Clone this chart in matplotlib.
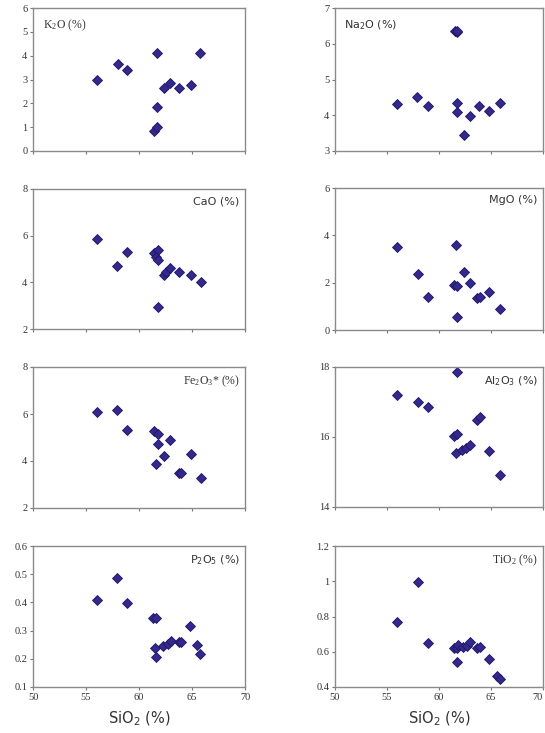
import matplotlib
matplotlib.use("Agg")
import matplotlib.pyplot as plt

# ---- data (SiO2 % vs oxide %) ----
sio2_k2o = [56.0, 58.0, 58.9, 61.7, 61.7, 61.4, 61.7, 62.4, 62.9, 63.8, 64.9, 65.8]
k2o = [3.0, 3.65, 3.4, 4.1, 1.85, 0.85, 1.0, 2.65, 2.85, 2.65, 2.75, 4.1]

sio2_na2o = [56.0, 57.9, 58.9, 61.55, 61.7, 61.75, 61.7, 61.7, 62.4, 62.95, 63.8, 64.85, 65.85]
na2o = [4.32, 4.51, 4.27, 6.36, 6.32, 6.37, 4.34, 4.09, 3.46, 3.97, 4.27, 4.13, 4.34]

sio2_cao = [56.0, 57.95, 58.9, 61.4, 61.75, 61.65, 61.8, 61.75, 62.4, 62.55, 62.9, 63.8, 64.9, 65.85]
cao = [5.87, 4.68, 5.28, 5.25, 5.4, 5.08, 4.97, 2.96, 4.32, 4.46, 4.6, 4.45, 4.32, 4.03]

sio2_mgo = [56.0, 57.95, 58.9, 61.65, 61.4, 61.75, 61.75, 62.4, 62.95, 63.65, 63.9, 64.85, 65.85]
mgo = [3.49, 2.37, 1.38, 3.6, 1.91, 1.86, 0.56, 2.46, 2.0, 1.37, 1.38, 1.61, 0.88]

sio2_fe2o3 = [56.0, 57.95, 58.9, 61.4, 61.8, 61.75, 61.65, 62.4, 62.9, 63.8, 63.95, 64.9, 65.85]
fe2o3 = [6.09, 6.19, 5.31, 5.27, 5.17, 4.71, 3.89, 4.21, 4.88, 3.51, 3.47, 4.28, 3.27]

sio2_al2o3 = [56.0, 57.95, 58.9, 61.75, 61.4, 61.75, 61.65, 62.2, 62.6, 62.95, 63.7, 63.9, 64.85, 65.85]
al2o3 = [17.19, 16.99, 16.85, 17.85, 16.02, 16.09, 15.54, 15.62, 15.69, 15.78, 16.5, 16.57, 15.59, 14.92]

sio2_p2o5 = [56.0, 57.9, 58.85, 61.35, 61.65, 61.55, 61.6, 62.3, 62.7, 63.0, 63.75, 63.95, 64.8, 65.5, 65.75]
p2o5 = [0.408, 0.487, 0.399, 0.346, 0.343, 0.24, 0.207, 0.245, 0.254, 0.262, 0.26, 0.26, 0.316, 0.25, 0.218]

sio2_tio2 = [56.0, 57.95, 58.9, 61.4, 61.7, 61.8, 61.75, 62.3, 62.7, 63.0, 63.7, 63.9, 64.85, 65.6, 65.85]
tio2 = [0.766, 0.998, 0.649, 0.624, 0.62, 0.64, 0.54, 0.626, 0.634, 0.658, 0.62, 0.626, 0.558, 0.464, 0.445]

titles = [r"K$_2$O (%)", r"Na$_2$O (%)", "CaO (%)", "MgO (%)",
          r"Fe$_2$O$_3$* (%)", r"Al$_2$O$_3$ (%)", r"P$_2$O$_5$ (%)", r"TiO$_2$ (%)"]
y_ticks = [[0, 1, 2, 3, 4, 5, 6], [3, 4, 5, 6, 7], [2, 4, 6, 8], [0, 2, 4, 6],
           [2, 4, 6, 8], [14, 16, 18], [0.1, 0.2, 0.3, 0.4, 0.5, 0.6],
           [0.4, 0.6, 0.8, 1.0, 1.2]]
y_tick_labels = [["0", "1", "2", "3", "4", "5", "6"], ["3", "4", "5", "6", "7"],
                 ["2", "4", "6", "8"], ["0", "2", "4", "6"], ["2", "4", "6", "8"],
                 ["14", "16", "18"], ["0.1", "0.2", "0.3", "0.4", "0.5", "0.6"],
                 ["0.4", "0.6", "0.8", "1", "1.2"]]
x_ticks = [50, 55, 60, 65, 70]
x_tick_labels = ["50", "55", "60", "65", "70"]

xs = [sio2_k2o, sio2_na2o, sio2_cao, sio2_mgo, sio2_fe2o3, sio2_al2o3, sio2_p2o5, sio2_tio2]
ys = [k2o, na2o, cao, mgo, fe2o3, al2o3, p2o5, tio2]

plt.rcParams["mathtext.default"] = "regular"

W, H = 545, 733
fig = plt.figure(figsize=(W / 100, H / 100), dpi=100)

# pixel boxes (x0, y0_top, x1, y1_bottom)
boxes = [(33, 8, 245, 151), (335, 8, 543, 151),
         (33, 189, 245, 329), (335, 188, 543, 330),
         (33, 367, 245, 508), (335, 367, 543, 507),
         (33, 546, 245, 687), (335, 546, 543, 687)]

serif_titles = {0, 4, 7}
title_pos = ["tl", "tl", "tr", "tr", "tr", "tr", "tr", "tr"]
mcolor = "#33288c"

for i in range(8):
    x0, y0, x1, y1 = boxes[i]
    ax = fig.add_axes([x0 / W, 1 - y1 / H, (x1 - x0) / W, (y1 - y0) / H])
    ax.plot(xs[i], ys[i], linestyle="none", marker="D", ms=5.4,
            color=mcolor, mec="#1e1664", mew=0.6)
    ax.set_xlim(50, 70)
    ax.set_ylim(y_ticks[i][0], y_ticks[i][-1])
    ax.set_xticks(x_ticks)
    ax.set_yticks(y_ticks[i])
    ax.set_yticklabels(y_tick_labels[i], fontfamily="Liberation Serif", fontsize=7.5,
                       color="#333333")
    if i >= 6:
        ax.set_xticklabels(x_tick_labels, fontfamily="Liberation Serif", fontsize=7.5,
                           color="#333333")
        if i == 7:
            ax.get_xticklabels()[-1].set_horizontalalignment("right")
        ax.set_xlabel(r"SiO$_2$ (%)", fontfamily="DejaVu Sans", fontsize=10.5,
                      color="#333333", labelpad=6)
    else:
        ax.set_xticklabels([])
    ax.tick_params(direction="out", length=2.5, width=0.8, pad=1.5, colors="#777777",
                   labelcolor="#333333")
    for sp in ax.spines.values():
        sp.set_color("#8a8a8a")
        sp.set_linewidth(1.0)
    fam = "Liberation Serif" if i in serif_titles else "DejaVu Sans"
    fs = 8.5 if i in serif_titles else 8
    if title_pos[i] == "tl":
        ax.text(0.045, 0.93, titles[i], transform=ax.transAxes, ha="left", va="top",
                fontfamily=fam, fontsize=fs, color="#333333")
    else:
        ax.text(0.975, 0.95, titles[i], transform=ax.transAxes, ha="right", va="top",
                fontfamily=fam, fontsize=fs, color="#333333")

fig.savefig("out.png", dpi=100)
